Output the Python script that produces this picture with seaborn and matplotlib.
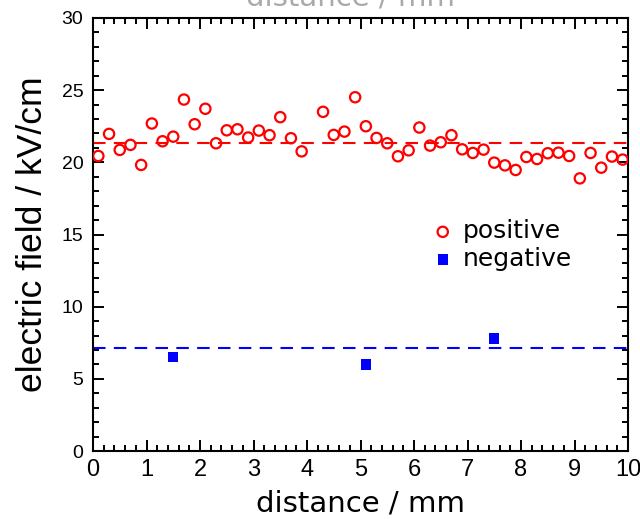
import matplotlib
matplotlib.use("Agg")
import matplotlib.pyplot as plt
import seaborn as sns
import pandas as pd
from matplotlib.ticker import MultipleLocator

# ---- data ----
pos_x = [0.1, 0.3, 0.5, 0.7, 0.9, 1.1, 1.3, 1.5, 1.7, 1.9, 2.1, 2.3, 2.5, 2.7, 2.9,
         3.1, 3.3, 3.5, 3.7, 3.9, 4.3, 4.5, 4.7, 4.9, 5.1, 5.3, 5.5, 5.7, 5.9,
         6.1, 6.3, 6.5, 6.7, 6.9, 7.1, 7.3, 7.5, 7.7, 7.9, 8.1, 8.3, 8.5, 8.7, 8.9,
         9.1, 9.3, 9.5, 9.7, 9.9]
pos_y = [20.44, 21.97, 20.86, 21.21, 19.82, 22.69, 21.46, 21.78, 24.35, 22.64,
         23.71, 21.32, 22.22, 22.29, 21.72, 22.20, 21.88, 23.13, 21.67, 20.76,
         23.50, 21.90, 22.13, 24.51, 22.50, 21.69, 21.32, 20.42, 20.83,
         22.41, 21.16, 21.39, 21.88, 20.90, 20.65, 20.88, 19.98, 19.79, 19.47,
         20.37, 20.23, 20.63, 20.67, 20.44, 18.89, 20.65, 19.63, 20.40, 20.19]
neg_x = [1.5, 5.1, 7.5]
neg_y = [6.53, 5.99, 7.79]
pos_level = 21.37
neg_level = 7.11

x_ticks = [0, 1, 2, 3, 4, 5, 6, 7, 8, 9, 10]
y_ticks = [0, 5, 10, 15, 20, 25, 30]

df_pos = pd.DataFrame({"x": pos_x, "y": pos_y})
df_neg = pd.DataFrame({"x": neg_x, "y": neg_y})

sns.set_style("ticks")
plt.rcParams['font.family'] = ['DejaVu Sans']
plt.rcParams['text.color'] = 'black'
plt.rcParams['axes.labelcolor'] = 'black'
plt.rcParams['xtick.color'] = 'black'
plt.rcParams['ytick.color'] = 'black'

fig = plt.figure(figsize=(6.40, 5.19), dpi=100)
ax = fig.add_axes([93/640, 1 - 451/519, (628 - 93)/640, (451 - 18)/519])

ax.axhline(pos_level, color="#ff0000", lw=1.5, dashes=(6, 4), zorder=1)
ax.axhline(neg_level, color="#0000ff", lw=1.5, dashes=(6, 4), zorder=1)

sns.scatterplot(data=df_pos, x="x", y="y", ax=ax, marker="o", s=55,
                facecolor="none", edgecolor="#ff0000", linewidth=1.6,
                label="positive", zorder=3)
sns.scatterplot(data=df_neg, x="x", y="y", ax=ax, marker="s", s=55,
                color="#0000ff", edgecolor="none", linewidth=0,
                label="negative", zorder=3)

ax.set_xlim(0, 10)
ax.set_ylim(0, 30)
ax.set_xticks(x_ticks)
ax.set_yticks(y_ticks)
ax.xaxis.set_minor_locator(MultipleLocator(0.2))
ax.yaxis.set_minor_locator(MultipleLocator(1))
ax.tick_params(which="both", direction="in", top=True, right=True, width=1.4,
               color="black", labelcolor="black")
ax.tick_params(which="major", length=8)
ax.tick_params(which="minor", length=4)
for lab in ax.get_xticklabels():
    lab.set_fontfamily("Liberation Sans")
    lab.set_fontsize(17)
for lab in ax.get_yticklabels():
    lab.set_fontfamily("Liberation Sans")
    lab.set_fontsize(14)
ax.tick_params(axis="x", pad=6)
ax.tick_params(axis="y", pad=7)
for sp in ax.spines.values():
    sp.set_visible(True)
    sp.set_linewidth(1.5)
    sp.set_color("black")

ax.set_xlabel("distance / mm", fontsize=21, family="DejaVu Sans", labelpad=6, color="black")
ax.set_ylabel("electric field / kV/cm", fontsize=25.5, family="Liberation Sans",
              labelpad=9, color="black")

fig.text(350/640, 1 - 5/519, "distance / mm", fontsize=21, color="#aaaaaa",
         ha="center", va="baseline", family="DejaVu Sans")

leg = ax.legend(loc="upper left", bbox_to_anchor=(0.607, 0.558), frameon=False,
                fontsize=18, handletextpad=0.2, labelspacing=0.15,
                borderaxespad=0, handlelength=1.2)
for t in leg.get_texts():
    t.set_color("black")

fig.savefig("out.png", dpi=100)
